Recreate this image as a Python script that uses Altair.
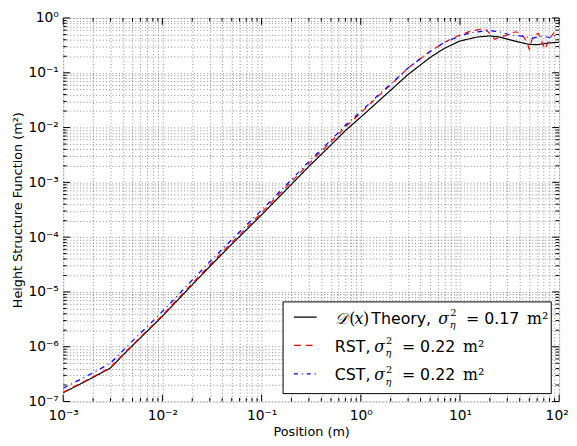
import altair as alt
import pandas as pd

# ---------------- data ----------------
theory_x = [0.001, 0.0015, 0.002, 0.003, 0.004, 0.005, 0.007, 0.01, 0.015, 0.02, 0.03, 0.05,
            0.07, 0.1, 0.15, 0.2, 0.3, 0.5, 0.7, 1, 1.5, 2, 3, 5, 7, 10, 15, 20, 25, 30, 40,
            50, 60, 70, 80, 100]
theory_y = [1.45e-7, 2.1e-7, 2.75e-7, 4.1e-7, 7.0e-7, 1.05e-6, 1.9e-6, 3.6e-6, 7.8e-6, 1.35e-5,
            2.9e-5, 7.4e-5, 1.35e-4, 2.55e-4, 5.4e-4, 9.2e-4, 1.95e-3, 4.8e-3, 8.8e-3, 1.55e-2,
            3.0e-2, 4.8e-2, 0.093, 0.19, 0.28, 0.38, 0.45, 0.47, 0.45, 0.41, 0.36, 0.33, 0.325,
            0.34, 0.35, 0.36]

rst_x = [0.001, 0.0015, 0.002, 0.003, 0.004, 0.005, 0.007, 0.01, 0.015, 0.02, 0.03, 0.05,
         0.07, 0.1, 0.15, 0.2, 0.3, 0.5, 0.7, 1, 1.5, 2, 3, 5, 7, 9.5, 12.6, 15.9, 18.2, 20.4,
         22.4, 25, 28, 31.4, 36, 39.6, 44, 47.6, 49.9, 53.4, 57.3, 62, 67.3, 72.1, 79, 88.9, 100]
rst_y = [1.48e-7, 2.15e-7, 2.82e-7, 4.2e-7, 7.2e-7, 1.08e-6, 1.97e-6, 3.75e-6, 8.2e-6, 1.43e-5,
         3.1e-5, 8.0e-5, 1.47e-4, 2.8e-4, 6.0e-4, 1.03e-3, 2.2e-3, 5.5e-3, 1.03e-2, 1.85e-2,
         3.75e-2, 6.0e-2, 0.122, 0.245, 0.36, 0.47, 0.57, 0.62, 0.62, 0.50, 0.41, 0.44, 0.47,
         0.50, 0.56, 0.54, 0.45, 0.355, 0.27, 0.41, 0.50, 0.52, 0.355, 0.27, 0.41, 0.54, 0.50]

cst_x = [0.001, 0.0015, 0.002, 0.003, 0.004, 0.005, 0.007, 0.01, 0.015, 0.02, 0.03, 0.05,
         0.07, 0.1, 0.15, 0.2, 0.3, 0.5, 0.7, 1, 1.5, 2, 3, 5, 7, 10, 13, 17, 21, 25, 30, 35,
         40, 45, 50, 55, 60, 70, 80, 90, 100]
cst_y = [1.75e-7, 2.55e-7, 3.35e-7, 5.0e-7, 8.5e-7, 1.28e-6, 2.3e-6, 4.4e-6, 9.5e-6, 1.65e-5,
         3.55e-5, 9.0e-5, 1.65e-4, 3.1e-4, 6.6e-4, 1.12e-3, 2.4e-3, 5.9e-3, 1.1e-2, 1.95e-2,
         3.9e-2, 6.2e-2, 0.122, 0.245, 0.36, 0.47, 0.54, 0.57, 0.58, 0.56, 0.51, 0.48, 0.47,
         0.46, 0.44, 0.43, 0.45, 0.46, 0.44, 0.47, 0.45]

series_names = ["Theory", "RST", "CST"]
series_colors = ["#000000", "#ff0000", "#0000ff"]

x_decades = [1e-3, 1e-2, 1e-1, 1e0, 1e1, 1e2]
y_decades = [1e-7, 1e-6, 1e-5, 1e-4, 1e-3, 1e-2, 1e-1, 1e0]

# ---------------- build tables ----------------
df = pd.concat([
    pd.DataFrame({"x": theory_x, "y": theory_y, "s": "Theory", "o": 0}),
    pd.DataFrame({"x": rst_x, "y": rst_y, "s": "RST", "o": 1}),
    pd.DataFrame({"x": cst_x, "y": cst_y, "s": "CST", "o": 2}),
], ignore_index=True)

x_minor = [m * d for d in x_decades[:-1] for m in range(2, 10)]
y_minor = [m * d for d in y_decades[:-1] for m in range(2, 10)]
x_all = sorted(x_decades + x_minor)
y_all = sorted(y_decades + y_minor)

W, H = 503, 389
FONT = "DejaVu Sans"
SERIF = "DejaVu Serif"

sup = "['⁻⁷','⁻⁶','⁻⁵','⁻⁴','⁻³','⁻²','⁻¹','⁰','¹','²'][round(log(datum.value)/LN10)+7]"
label_expr = ("abs(log(datum.value)/LN10 - round(log(datum.value)/LN10)) < 0.000001 ? '10' + "
              + sup + " : ''")

xscale = alt.Scale(type="log", domain=[1e-3, 1e2], nice=False)
yscale = alt.Scale(type="log", domain=[1e-7, 1e0], nice=False)

grid_common = dict(grid=True, gridColor="#555555", gridDash=[1, 2.3], gridWidth=0.8,
                   gridOpacity=0.85, ticks=False, domain=False, labelFont=FONT,
                   labelFontSize=14, labelColor="black", titleFont=FONT,
                   titleFontSize=13, titleColor="black", titleFontWeight="normal",
                   labelExpr=label_expr, labelFlush=False,
                   labelOverlap=False, labelBound=False)

x_axis = alt.Axis(values=x_all, title="Position (m)", titleY=31, titleBaseline="middle",
                  labelPadding=7,
                  labelOffset={"condition": {"test": "datum.value > 50", "value": -2.5},
                               "value": 0},
                  **grid_common)
y_axis = alt.Axis(values=y_all, title="Height Structure Function (m²)", titleX=-46,
                  titleBaseline="middle", labelPadding=5, **grid_common)

lines = alt.Chart(df).mark_line(strokeWidth=1.2, clip=True).encode(
    x=alt.X("x:Q", scale=xscale, axis=x_axis),
    y=alt.Y("y:Q", scale=yscale, axis=y_axis),
    color=alt.Color("s:N", scale=alt.Scale(domain=series_names, range=series_colors), legend=None),
    strokeDash=alt.StrokeDash("s:N", scale=alt.Scale(domain=series_names,
                                                     range=[[1, 0], [6, 5], [5, 4, 1, 4]]),
                              legend=None),
    order=alt.Order("o:Q"),
    detail="s:N",
)


# inward tick marks on all four sides
def xticks(vals, length):
    d = pd.DataFrame({"x": vals})
    bot = alt.Chart(d).mark_rule(color="black", strokeWidth=1).encode(
        x=alt.X("x:Q", scale=xscale, axis=x_axis), y=alt.value(H), y2=alt.value(H - length))
    top = alt.Chart(d).mark_rule(color="black", strokeWidth=1).encode(
        x=alt.X("x:Q", scale=xscale, axis=x_axis), y=alt.value(0), y2=alt.value(length))
    return [bot, top]


def yticks(vals, length):
    d = pd.DataFrame({"y": vals})
    lef = alt.Chart(d).mark_rule(color="black", strokeWidth=1).encode(
        y=alt.Y("y:Q", scale=yscale, axis=y_axis), x=alt.value(0), x2=alt.value(length))
    rig = alt.Chart(d).mark_rule(color="black", strokeWidth=1).encode(
        y=alt.Y("y:Q", scale=yscale, axis=y_axis), x=alt.value(W), x2=alt.value(W - length))
    return [lef, rig]


tick_layers = xticks(x_decades, 7) + xticks(x_minor, 3.5) + yticks(y_decades, 7) + yticks(y_minor, 3.5)

# ---------------- legend (drawn by hand) ----------------
one = pd.DataFrame({"a": [0]})
box = alt.Chart(one).mark_rect(fill="white", stroke="black", strokeWidth=1).encode(
    x=alt.value(223), x2=alt.value(495), y=alt.value(288), y2=alt.value(381))

row_base = [310, 338.5, 367.5]
dash_styles = [[1, 0], [7, 5], [4, 4, 1, 4]]
leg_lines = [
    alt.Chart(one).mark_rule(color=c, strokeWidth=1.2, strokeDash=ds).encode(
        x=alt.value(234), x2=alt.value(257), y=alt.value(b - 6.5))
    for c, ds, b in zip(series_colors, dash_styles, row_base)
]

LS = 16  # legend font size


def txt(s, x, y, size=LS, font=FONT, style="normal"):
    return alt.Chart(one).mark_text(text=s, align="left", baseline="alphabetic", font=font,
                                    fontSize=size, fontStyle=style, color="black").encode(
        x=alt.value(x), y=alt.value(y))


def sigma_block(x, base):
    return [
        txt("σ", x, base, LS, SERIF, "italic"),
        txt("2", x + 12, base - 7.5, 10, SERIF),
        txt("η", x + 11.5, base + 4.5, 10, SERIF, "italic"),
    ]


leg_text = [
    # row 1
    txt("𝒟", 276, row_base[0], LS, SERIF, "italic"),
    txt("(", 290, row_base[0], LS, SERIF),
    txt("x", 295.5, row_base[0], LS, SERIF, "italic"),
    txt(")", 304, row_base[0], LS, SERIF),
    txt("Theory,", 312.5, row_base[0]),
    *sigma_block(380.5, row_base[0]),
    txt("= 0.17", 408.5, row_base[0]),
    txt("m²", 470.5, row_base[0], LS, SERIF),
    # row 2
    txt("RST,", 275.5, row_base[1]),
    *sigma_block(315.5, row_base[1]),
    txt("= 0.22", 343.5, row_base[1]),
    txt("m²", 405.5, row_base[1], LS, SERIF),
    # row 3
    txt("CST,", 275.5, row_base[2]),
    *sigma_block(315.5, row_base[2]),
    txt("= 0.22", 343.5, row_base[2]),
    txt("m²", 405.5, row_base[2], LS, SERIF),
]

chart = alt.layer(lines, *tick_layers, box, *leg_lines, *leg_text).properties(
    width=W, height=H,
    autosize=alt.AutoSizeParams(type="none"),
    padding={"left": 56, "top": 7, "right": 10, "bottom": 40},
).configure_view(stroke="black", strokeWidth=1.2).configure(background="white")

chart.save("out.html", embed_options={"renderer": "svg", "actions": False})
